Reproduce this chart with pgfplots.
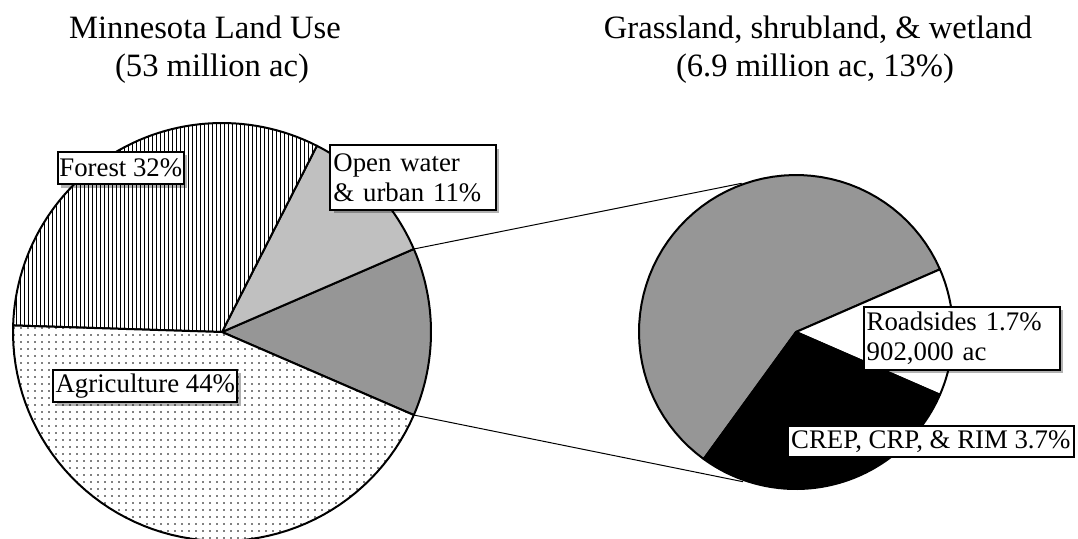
\documentclass[border=0pt]{standalone}
\usepackage{fontspec}
\setmainfont{Liberation Serif}
\usepackage{pgfplots}
\pgfplotsset{compat=1.18}
\usetikzlibrary{patterns.meta,shadows}
\definecolor{lightg}{RGB}{192,192,192}
\definecolor{darkg}{RGB}{150,150,150}
\begin{document}
\begin{tikzpicture}
% shares of Minnesota land (percent)
\def\pGrass{13}\def\pWater{11}\def\pForest{32}\def\pAgri{44}
% parts of grassland, shrubland & wetland (percent of state)
\def\pRoad{1.7}\def\pCrep{3.7}
\pgfmathsetmacro\aA{-1.8*\pGrass}
\pgfmathsetmacro\aB{1.8*\pGrass}
\pgfmathsetmacro\aC{\aB+3.6*\pWater}
\pgfmathsetmacro\aD{\aC+3.6*\pForest}
\pgfmathsetmacro\aE{\aD+3.6*\pAgri}
\pgfmathsetmacro\bA{-180*\pRoad/\pGrass}
\pgfmathsetmacro\bB{180*\pRoad/\pGrass}
\pgfmathsetmacro\bC{\bA-360*\pCrep/\pGrass}
\pgfmathsetmacro\bD{\bC+360}
\def\cxL{222}\def\cyL{332}\def\rL{209}
\def\cxR{796}\def\cyR{332}\def\rR{157}
\tikzset{
  lab/.style={draw=black, line width=1pt, fill=white, inner xsep=0.8pt, inner ysep=1pt,
    align=left, font=\fontsize{13.4}{15}\selectfont, anchor=center},
  shad/.style={drop shadow={shadow xshift=1.6pt, shadow yshift=-1.6pt, fill=black, opacity=0.3}},
  wedge/.style={draw=black, line width=1pt, line join=round, samples=60, variable=\t}
}
\begin{axis}[scale only axis, width=539pt, height=269pt,
  xmin=0, xmax=1078, ymin=0, ymax=538, y dir=reverse, hide axis, clip=true]
\path (rel axis cs:0,0) rectangle (rel axis cs:1,1);
% ---- left pie ----
\addplot[wedge, fill=darkg, domain=\aA:\aB] ({\cxL+\rL*cos(\t)},{\cyL-\rL*sin(\t)}) -- (axis cs:\cxL,\cyL) -- cycle;
\addplot[wedge, fill=lightg, domain=\aB:\aC] ({\cxL+\rL*cos(\t)},{\cyL-\rL*sin(\t)}) -- (axis cs:\cxL,\cyL) -- cycle;
\addplot[draw=none, fill=white, samples=60, variable=\t, domain=\aC:\aD] ({\cxL+\rL*cos(\t)},{\cyL-\rL*sin(\t)}) -- (axis cs:\cxL,\cyL) -- cycle;
\addplot[wedge, pattern={Lines[angle=90,distance=2pt,line width=0.45pt]}, domain=\aC:\aD] ({\cxL+\rL*cos(\t)},{\cyL-\rL*sin(\t)}) -- (axis cs:\cxL,\cyL) -- cycle;
\addplot[draw=none, fill=white, samples=60, variable=\t, domain=\aD:\aE] ({\cxL+\rL*cos(\t)},{\cyL-\rL*sin(\t)}) -- (axis cs:\cxL,\cyL) -- cycle;
\addplot[wedge, pattern={Dots[distance=3.5pt,radius=0.4pt]}, domain=\aD:\aE] ({\cxL+\rL*cos(\t)},{\cyL-\rL*sin(\t)}) -- (axis cs:\cxL,\cyL) -- cycle;
% ---- connectors ----
\addplot[black, line width=0.5pt] coordinates {(413.8,249.0) (741.7,183.3)};
\addplot[black, line width=0.5pt] coordinates {(413.8,415.0) (743.0,481.7)};
% ---- right pie ----
\addplot[wedge, fill=darkg, domain=\bB:\bD] ({\cxR+\rR*cos(\t)},{\cyR-\rR*sin(\t)}) -- (axis cs:\cxR,\cyR) -- cycle;
\addplot[wedge, fill=white, domain=\bA:\bB] ({\cxR+\rR*cos(\t)},{\cyR-\rR*sin(\t)}) -- (axis cs:\cxR,\cyR) -- cycle;
\addplot[wedge, fill=black, domain=\bC:\bA] ({\cxR+\rR*cos(\t)},{\cyR-\rR*sin(\t)}) -- (axis cs:\cxR,\cyR) -- cycle;
% ---- labels ----
\node[lab, shad, minimum width=62.5pt, minimum height=16.3pt] at (axis cs:120.8,168) {Forest 32\%};
\node[lab, shad, inner xsep=1.5pt, text width=79.8pt, minimum height=32.3pt] at (axis cs:413.2,177.7) {Open water\\\& urban 11\%};
\node[lab, shad, minimum width=92pt, minimum height=16.3pt] at (axis cs:145.3,386) {Agriculture 44\%};
\node[lab, shad, inner xsep=1.5pt, text width=95pt, minimum height=31.7pt] at (axis cs:961.7,338.3) {Roadsides 1.7\%\\902,000 ac};
\node[lab, inner xsep=0.5pt, minimum width=143.2pt, minimum height=15.5pt] at (axis cs:930.8,441.8) {CREP, CRP, \& RIM 3.7\%};
% ---- titles ----
\node[anchor=base, font=\fontsize{16.3}{19}\selectfont] at (axis cs:205,38.3) {Minnesota Land Use};
\node[anchor=base, font=\fontsize{16.3}{19}\selectfont] at (axis cs:212,76.7) {(53 million ac)};
\node[anchor=base, font=\fontsize{16.3}{19}\selectfont] at (axis cs:818,38.3) {Grassland, shrubland, \& wetland};
\node[anchor=base, font=\fontsize{16.3}{19}\selectfont] at (axis cs:815,76.7) {(6.9 million ac, 13\%)};
\end{axis}
\end{tikzpicture}
\end{document}
